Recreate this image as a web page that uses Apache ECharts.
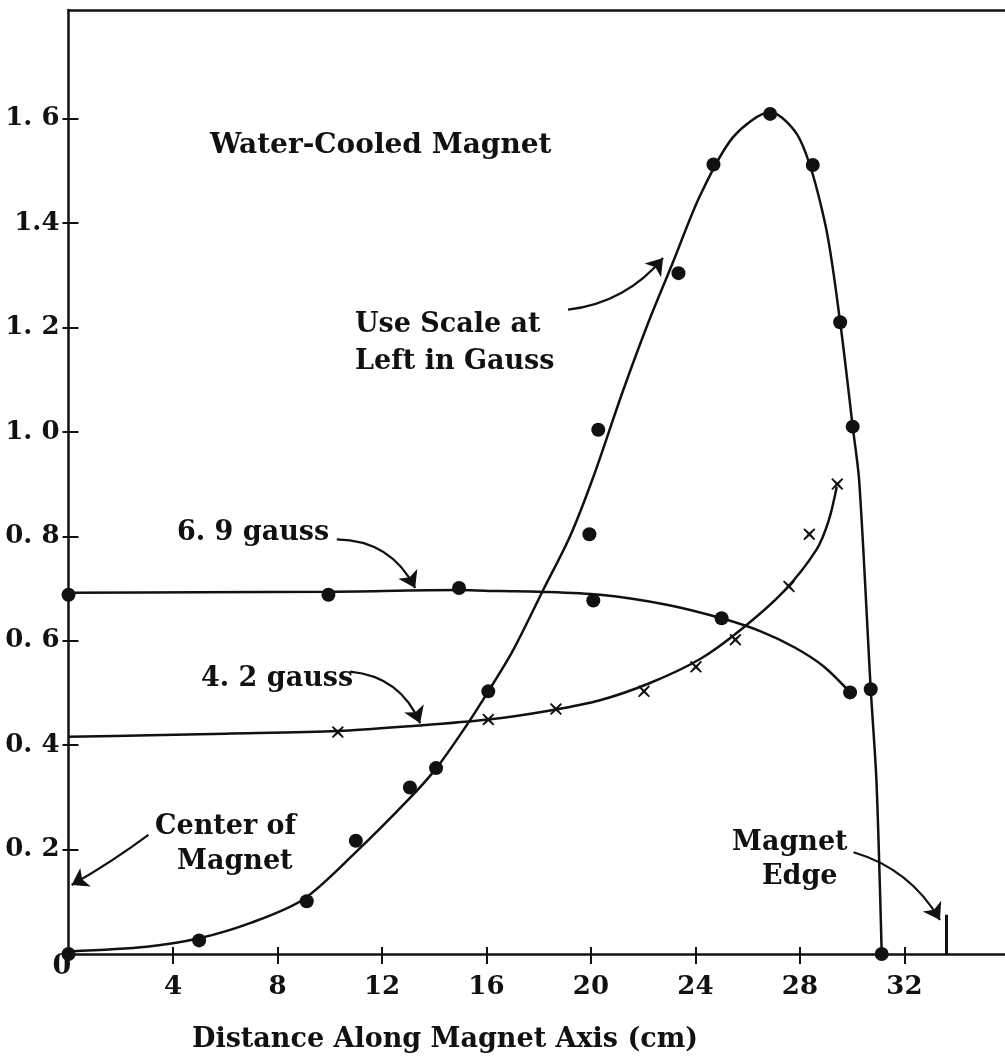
<!DOCTYPE html>
<html>
<head>
<meta charset="utf-8">
<script src="https://cdn.jsdelivr.net/npm/echarts@6/dist/echarts.min.js"></script>
<style>
  html, body { margin: 0; padding: 0; background: #fff; }
  #chart { width: 1005px; height: 1064px; }
</style>
</head>
<body>
<div id="chart"></div>
<script>
// ---- data ----
const xTickValues = [4, 8, 12, 16, 20, 24, 28, 32];
const xTickLabels = ['4', '8', '12', '16', '20', '24', '28', '32'];
const yTickValues = [0.2, 0.4, 0.6, 0.8, 1.0, 1.2, 1.4, 1.6];
const yTickLabels = ['0. 2', '0. 4', '0. 6', '0. 8', '1. 0', '1. 2', '1.4', '1. 6'];

// Water-cooled magnet (fitted curve and measured dots)
const mainCurve = [[0,0.005],[3,0.014],[5,0.03],[7,0.06],[9,0.105],[11,0.195],[13,0.295],[14.07,0.355],[15.2,0.435],[16.07,0.503],[17,0.58],[18.2,0.7],[19.2,0.8],[20.1,0.915],[21.2,1.075],[22.2,1.21],[23.1,1.32],[24.2,1.455],[25.45,1.565],[26.86,1.612],[28,1.56],[28.96,1.4],[29.54,1.21],[30.02,1.01],[30.27,0.905],[30.71,0.507],[30.93,0.33],[31.13,0]];
const mainDots = [[0,0],[5,0.026],[9.12,0.101],[11.0,0.217],[13.07,0.319],[14.07,0.356],[16.07,0.503],[19.94,0.804],[20.28,1.004],[23.35,1.304],[24.69,1.512],[26.86,1.609],[28.49,1.511],[29.54,1.21],[30.02,1.01],[30.71,0.507],[31.13,0]];

// 6.9 gauss
const g69Curve = [[0,0.692],[5,0.693],[10,0.694],[15,0.697],[16.52,0.695],[18,0.694],[20.35,0.688],[22.9,0.669],[25,0.643],[26.5,0.618],[27.8,0.587],[28.9,0.551],[29.92,0.501]];
const g69Dots = [[0,0.688],[9.95,0.688],[14.95,0.701],[20.09,0.677],[25.0,0.643],[29.92,0.501]];

// 4.2 gauss
const g42Curve = [[0,0.416],[3.12,0.419],[6,0.422],[10.31,0.427],[13,0.436],[16.07,0.449],[18.5,0.467],[20.35,0.486],[22.26,0.519],[24.18,0.565],[25.71,0.62],[27.37,0.694],[28.64,0.775],[29.1,0.83],[29.41,0.895]];
const g42Marks = [[10.31,0.425],[16.07,0.449],[18.66,0.469],[22.03,0.503],[24.02,0.55],[25.53,0.602],[27.58,0.704],[28.36,0.804],[29.43,0.9]];

// annotation arrows (data coords): [from, to]
const arrowUseScale = [[19.12,1.234],[22.76,1.333]];
const arrow69 = [[10.27,0.794],[13.27,0.701]];
const arrow42 = [[10.78,0.541],[13.46,0.442]];
const arrowCenter = [[3.06,0.228],[0.12,0.132]];
const arrowEdge = [[30.05,0.195],[33.36,0.065]];
const edgeMark = [[33.62,0],[33.62,0.075]];

// ---- chart ----
const FONT = 'DejaVu Serif';
const INK = '#111';
const X_MAX = 35.85, Y_MAX = 1.808;
const xMarkPath = 'path://M1,0 L5,3.6 L9,0 L10,1 L6.4,5 L10,9 L9,10 L5,6.4 L1,10 L0,9 L3.6,5 L0,1 Z';

function xLabel(v) {
  for (let i = 0; i < xTickValues.length; i++) if (Math.abs(v - xTickValues[i]) < 1e-6) return xTickLabels[i];
  return '';
}
function yLabel(v) {
  for (let i = 0; i < yTickValues.length; i++) if (Math.abs(v - yTickValues[i]) < 1e-6) return yTickLabels[i];
  return '';
}

const chart = echarts.init(document.getElementById('chart'), null, { renderer: 'canvas' });

function txt(t, x, y, align, size) {
  return { type: 'text', x: x, y: y, silent: true,
    style: { text: t, x: 0, y: 0, fill: INK, font: 'bold ' + (size || 27) + 'px "' + FONT + '"',
      textAlign: align || 'left', textVerticalAlign: 'middle' } };
}

const option = {
  backgroundColor: '#fff',
  animation: false,
  grid: { left: 68.5, right: 0, top: 10, bottom: 110, containLabel: false },
  xAxis: [
    { type: 'value', position: 'bottom', min: 0, max: X_MAX,
      axisLine: { show: true, onZero: false, lineStyle: { color: INK, width: 2.5 } },
      axisTick: { show: true, inside: true, length: 7, customValues: xTickValues, lineStyle: { color: INK, width: 2 } },
      axisLabel: { show: true, customValues: xTickValues, formatter: xLabel, margin: 20, color: INK,
        fontFamily: FONT, fontWeight: 'bold', fontSize: 26 },
      splitLine: { show: false } },
    { type: 'value', position: 'bottom', min: 0, max: X_MAX,
      axisLine: { show: false, onZero: false },
      axisTick: { show: true, inside: false, length: 10, customValues: xTickValues, lineStyle: { color: INK, width: 2 } },
      axisLabel: { show: false }, splitLine: { show: false } },
    { type: 'value', position: 'top', min: 0, max: X_MAX,
      axisLine: { show: true, onZero: false, lineStyle: { color: INK, width: 2.5 } },
      axisTick: { show: false }, axisLabel: { show: false }, splitLine: { show: false } }
  ],
  yAxis: [
    { type: 'value', position: 'left', min: 0, max: Y_MAX,
      axisLine: { show: true, onZero: false, lineStyle: { color: INK, width: 2.5 } },
      axisTick: { show: true, inside: false, length: 6, customValues: yTickValues, lineStyle: { color: INK, width: 2 } },
      axisLabel: { show: true, customValues: yTickValues, formatter: yLabel, margin: 9, color: INK,
        fontFamily: FONT, fontWeight: 'bold', fontSize: 26 },
      splitLine: { show: false } },
    { type: 'value', position: 'left', min: 0, max: Y_MAX,
      axisLine: { show: false, onZero: false },
      axisTick: { show: true, inside: true, length: 10, customValues: yTickValues, lineStyle: { color: INK, width: 2 } },
      axisLabel: { show: false }, splitLine: { show: false } }
  ],
  series: [
    { type: 'line', name: 'Water-Cooled Magnet', data: mainCurve, smooth: 0.3,
      showSymbol: false, lineStyle: { color: INK, width: 2.5 }, silent: true, z: 3 },
    { type: 'scatter', data: mainDots, symbol: 'circle', symbolSize: 14,
      itemStyle: { color: INK, opacity: 1 }, silent: true, z: 4 },
    { type: 'line', name: '6.9 gauss', data: g69Curve, smooth: 0.3,
      showSymbol: false, lineStyle: { color: INK, width: 2.5 }, silent: true, z: 3 },
    { type: 'scatter', data: g69Dots, symbol: 'circle', symbolSize: 14,
      itemStyle: { color: INK, opacity: 1 }, silent: true, z: 4 },
    { type: 'line', name: '4.2 gauss', data: g42Curve, smooth: 0.3,
      showSymbol: false, lineStyle: { color: INK, width: 2.5 }, silent: true, z: 3 },
    { type: 'scatter', data: g42Marks, symbol: xMarkPath, symbolSize: 12,
      itemStyle: { color: INK, opacity: 1 }, silent: true, z: 4 },
    { type: 'lines', coordinateSystem: 'cartesian2d', silent: true, z: 5,
      symbol: ['none', 'arrow'], symbolSize: [0, 16],
      lineStyle: { color: INK, width: 2.2, opacity: 1 },
      data: [
        { coords: arrowUseScale, lineStyle: { curveness: -0.2 } },
        { coords: arrow69, lineStyle: { curveness: 0.3 } },
        { coords: arrow42, lineStyle: { curveness: 0.3 } },
        { coords: arrowCenter, lineStyle: { curveness: 0.03 } },
        { coords: arrowEdge, lineStyle: { curveness: 0.2 } }
      ] },
    { type: 'lines', coordinateSystem: 'cartesian2d', silent: true, z: 5,
      symbol: ['none', 'none'], lineStyle: { color: INK, width: 3, opacity: 1, curveness: 0 },
      data: [ { coords: edgeMark } ] }
  ],
  graphic: [
    txt('Water-Cooled Magnet', 210, 146, 'left', 28),
    txt('Use Scale at', 355, 325),
    txt('Left in Gauss', 355, 362),
    txt('6. 9 gauss', 177, 533),
    txt('4. 2 gauss', 201, 679),
    txt('Center of', 155, 827),
    txt('Magnet', 177, 862),
    txt('Magnet', 732, 843),
    txt('Edge', 762, 877),
    txt('0', 62, 967, 'center'),
    txt('Distance Along Magnet Axis (cm)', 445, 1040, 'center')
  ]
};
chart.setOption(option);
</script>
</body>
</html>
